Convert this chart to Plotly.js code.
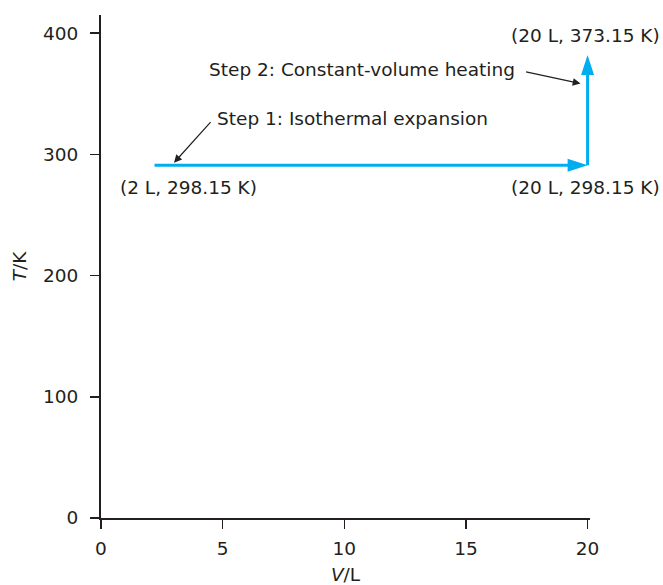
<!DOCTYPE html>
<html>
<head>
<meta charset="utf-8">
<script src="https://cdn.plot.ly/plotly-3.0.1.min.js"></script>
<style>
  html, body { margin: 0; padding: 0; background: #ffffff; }
  #chart { width: 663px; height: 585px; }
</style>
</head>
<body>
<div id="chart"></div>
<script>
// Path of the process (as drawn): V in L, T in K
const volume = [2.2, 20, 20];
const temperature = [291, 291, 382];
const arrowSizes = [0, 21, 21];

// State labels
const stateLabels = ['(2 L, 298.15 K)', '(20 L, 298.15 K)', '(20 L, 373.15 K)'];
const stateLabelX = [3.6, 19.9, 19.9];
const stateLabelY = [273, 273, 398];

// Step annotations: text anchor position and pointer (tail -> tip)
const stepTexts = ['Step 1: Isothermal expansion', 'Step 2: Constant-volume heating'];
const stepTextX = [4.68, 4.35];
const stepTextY = [329.5, 370];
const stepTailX = [4.56, 17.41];
const stepTailY = [327.8, 368.3];
const stepTipX = [3.0, 19.71];
const stepTipY = [293.1, 358.4];

const xTicks = [0, 5, 10, 15, 20];
const yTicks = [0, 100, 200, 300, 400];

const ink = '#231f20';
const blue = '#00aeef';
const fontFamily = '"DejaVu Sans", Verdana, sans-serif';
const fs = 18.5;

const traces = [{
  x: volume,
  y: temperature,
  type: 'scatter',
  mode: 'lines+markers',
  cliponaxis: false,
  line: { color: blue, width: 3 },
  marker: { symbol: 'arrow', size: arrowSizes, angleref: 'previous', color: blue, opacity: 1, line: { width: 0 } },
  hoverinfo: 'skip',
  showlegend: false
}];

const annotations = [];
for (let i = 0; i < stateLabels.length; i++) {
  annotations.push({
    x: stateLabelX[i], y: stateLabelY[i], xref: 'x', yref: 'y',
    text: stateLabels[i], showarrow: false,
    xanchor: 'center', yanchor: 'middle',
    font: { family: fontFamily, size: fs, color: ink }
  });
}
for (let i = 0; i < stepTexts.length; i++) {
  annotations.push({
    x: stepTextX[i], y: stepTextY[i], xref: 'x', yref: 'y',
    text: stepTexts[i], showarrow: false,
    xanchor: 'left', yanchor: 'middle',
    font: { family: fontFamily, size: fs, color: ink }
  });
  annotations.push({
    x: stepTipX[i], y: stepTipY[i], xref: 'x', yref: 'y',
    ax: stepTailX[i], ay: stepTailY[i], axref: 'x', ayref: 'y',
    text: '', showarrow: true,
    arrowhead: 2, arrowsize: 1.3, arrowwidth: 1.2, arrowcolor: ink
  });
}

const layout = {
  width: 663,
  height: 585,
  margin: { l: 101, r: 73, t: 15, b: 67 },
  paper_bgcolor: '#ffffff',
  plot_bgcolor: '#ffffff',
  font: { family: fontFamily, size: fs, color: ink },
  showlegend: false,
  xaxis: {
    range: [0, 20.1],
    tickvals: xTicks,
    ticktext: xTicks.map(String),
    showgrid: false, zeroline: false,
    showline: true, linecolor: ink, linewidth: 2,
    ticks: 'outside', ticklen: 9, tickwidth: 1.5, tickcolor: ink,
    ticklabelstandoff: 4,
    tickfont: { family: fontFamily, size: fs, color: ink },
    title: { text: '<i>V</i>/L', font: { family: fontFamily, size: fs, color: ink }, standoff: 12 }
  },
  yaxis: {
    range: [0, 415],
    tickvals: yTicks,
    ticktext: yTicks.map(String),
    showgrid: false, zeroline: false,
    showline: true, linecolor: ink, linewidth: 2,
    ticks: 'outside', ticklen: 9, tickwidth: 1.5, tickcolor: ink,
    ticklabelstandoff: 8,
    tickfont: { family: fontFamily, size: fs, color: ink },
    title: { text: '<i>T</i>/K', font: { family: fontFamily, size: fs, color: ink }, standoff: 12 }
  },
  annotations: annotations
};

Plotly.newPlot('chart', traces, layout, { displayModeBar: false, staticPlot: true });
</script>
</body>
</html>
